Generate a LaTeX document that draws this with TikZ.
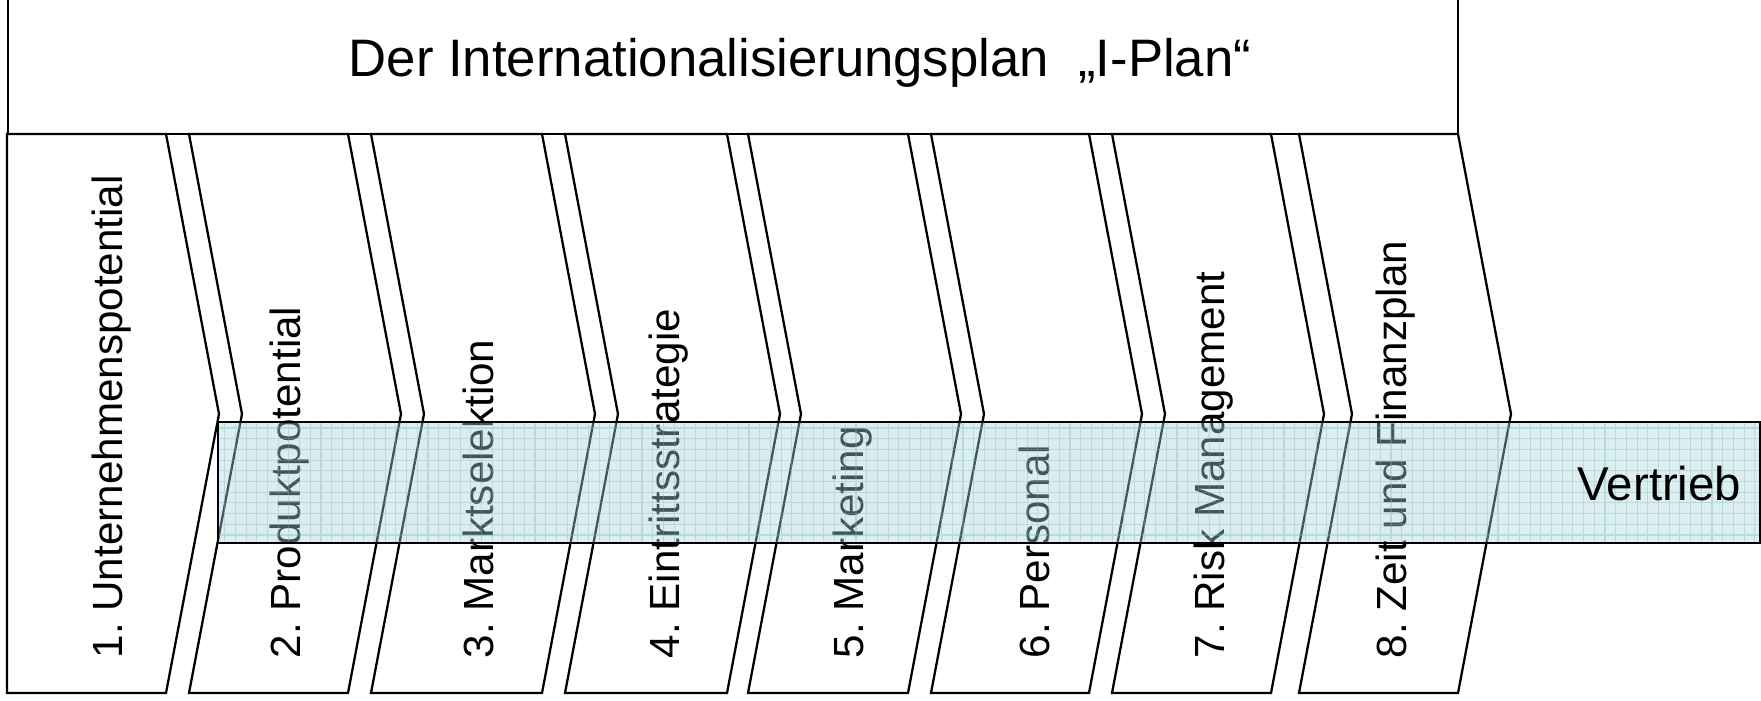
\documentclass[tikz,border=0pt]{standalone}
\usepackage{fontspec}
\setmainfont{Liberation Sans}
\usepackage{tikz}
\usetikzlibrary{positioning}
\frenchspacing

\definecolor{bandfill}{RGB}{170,212,217}
\definecolor{bandgrid}{RGB}{110,185,190}

\tikzset{
  chevron/.style={draw=black, line width=0.65pt, fill=white, line join=miter},
  phasetext/.style={rotate=90, anchor=west, inner sep=0pt, font=\fontsize{12}{14}\selectfont},
  band/.style={fill=bandfill, fill opacity=0.4},
}

\begin{document}
\begin{tikzpicture}[x=0.1mm, y=-0.1mm]
  % y runs downwards, one unit = 0.1mm
  \useasboundingbox (0,0) rectangle (1761,700);

  % Title box
  \draw[line width=0.65pt] (8,-5) rectangle (1458,134);
  \node[anchor=base, inner sep=0pt, font=\fontsize{15}{18}\selectfont] (title) at (800,76) {Der Internationalisierungsplan\ \ „I-Plan“};

  % Step 1 (flat left side)
  \draw[chevron] (7,134) -- (166,134) -- (219,414) -- (166,693) -- (7,693) -- cycle;
  \node[phasetext] (p1) at (112,659) {1. Unternehmenspotential};

  % Steps 2-8
  \foreach \n/\lft/\rgt/\tx/\txt in {2/189/348/290/Produktpotential, 3/371/542/478/Marktselektion,
      4/565/727/669/Eintrittsstrategie, 5/748/908/853/Marketing, 6/931/1089/1034/Personal,
      7/1112/1271/1214/Risk Management, 8/1299/1458/1396/Zeit und Finanzplan} {
    \draw[chevron] (\lft,134) -- (\rgt,134) -- (\rgt+53,414) -- (\rgt,693) -- (\lft,693) -- (\lft+53,414) -- cycle;
    \node[phasetext] (p\n) at (\tx,659) {\n. \txt};
  }

  % Sales band across the steps
  \begin{scope}
    \clip (218,422) rectangle (1760,543);
    \fill[band] (218,422) rectangle (1760,543);
    \draw[bandgrid, opacity=0.35, line width=0.3pt, step=1.07mm] (218,422) grid (1760,543);
  \end{scope}
  \draw[line width=0.65pt] (218,422) rectangle (1760,543);
  \node[anchor=base east, inner sep=0pt, font=\fontsize{13.5}{16}\selectfont] (sales) at (1742,500) {Vertrieb};

\end{tikzpicture}
\end{document}
